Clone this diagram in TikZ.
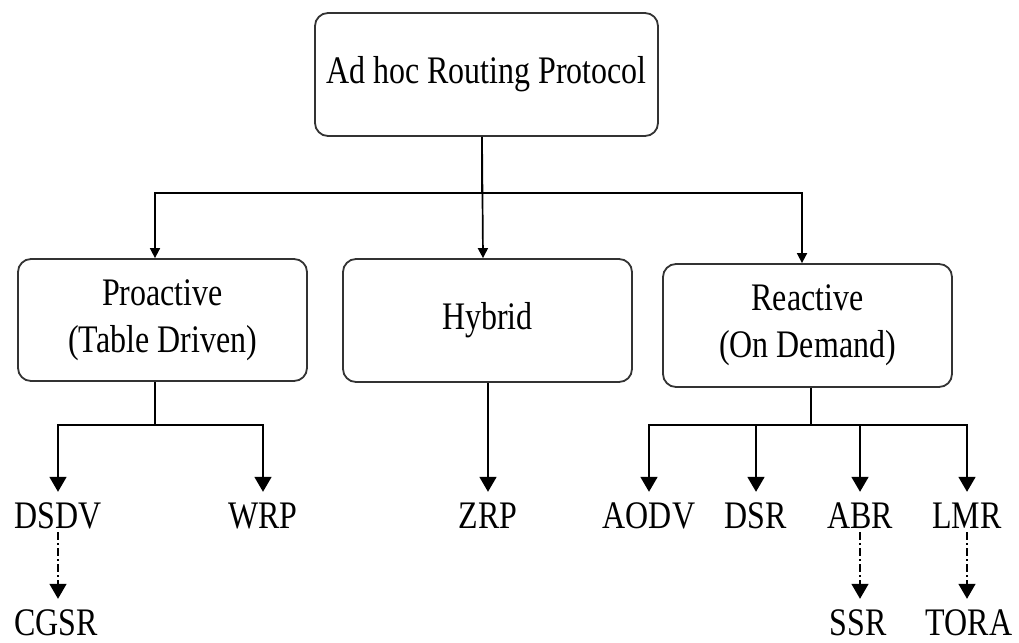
\documentclass[tikz,border=0pt]{standalone}
\usepackage{fontspec}
\setmainfont{Liberation Serif}[FakeStretch=0.82]
\usetikzlibrary{arrows.meta,calc}
\tikzset{
  box/.style={draw=black!80, line width=1.8pt, rounded corners=13pt, inner sep=0pt, align=center,
    font=\fontsize{39}{47}\selectfont},
  leaf/.style={inner sep=0pt, anchor=base, text height=36pt, text depth=4pt,
    font=\fontsize{39}{47}\selectfont},
  lowleaf/.style={leaf, text depth=0pt},
  arrS/.style={line width=1.7pt, -{Triangle[width=10pt,length=10pt]}},
  arrL/.style={line width=1.8pt, -{Triangle[width=17pt,length=15pt]}},
  link/.style={line width=1.8pt},
  dasharr/.style={line width=1.5pt, dash pattern=on 8pt off 3pt on 2pt off 3pt,
    -{Triangle[width=17pt,length=15pt]}},
}
\begin{document}
\begin{tikzpicture}[x=1pt,y=-1pt]
\useasboundingbox (0,0) rectangle (1019,642);
% boxes
\node[box, minimum width=343pt, minimum height=123pt] (root) at (486.5,74.5) {Ad hoc Routing Protocol};
\node[box, minimum width=289pt, minimum height=122pt] (pro) at (162.5,320) {Proactive\\(Table Driven)};
\node[box, minimum width=289pt, minimum height=123pt] (hyb) at (487.5,320.5) {Hybrid};
\node[box, minimum width=289pt, minimum height=123pt] (rea) at (807.5,325.5) {Reactive\\(On Demand)};
% leaves
\node[leaf] (dsdv) at (58,528) {DSDV};
\node[leaf] (wrp) at (263,528) {WRP};
\node[leaf] (zrp) at (488,528) {ZRP};
\node[leaf] (aodv) at (649,528) {AODV};
\node[leaf] (dsr) at (756,528) {DSR};
\node[leaf] (abr) at (860,528) {ABR};
\node[leaf] (lmr) at (967,528) {LMR};
\node[lowleaf] (cgsr) at (56,635) {CGSR};
\node[lowleaf] (ssr) at (858,635) {SSR};
\node[lowleaf] (tora) at (969,635) {TORA};
% top level connectors
\draw[link] ([xshift=-4.5pt]root.south) -- ++(0,56) coordinate (rj);
\draw[arrS] ([xshift=-4.5pt]root.south) -- ([xshift=-4.5pt]hyb.north);
\draw[arrS] (rj) -| ([xshift=-7.5pt]pro.north);
\draw[arrS] (rj) -| ([xshift=-5.5pt]rea.north);
% proactive
\draw[link] ([xshift=-7.5pt]pro.south) -- ++(0,43) coordinate (pj);
\draw[arrL] (pj) -| (dsdv.north);
\draw[arrL] (pj) -| (wrp.north);
% hybrid
\draw[arrL] ([xshift=0.5pt]hyb.south) -- (zrp.north);
% reactive
\draw[link] ([xshift=3.5pt]rea.south) -- ++(0,37) coordinate (qj);
\draw[arrL] (qj) -| (aodv.north);
\draw[arrL] (qj) -| (dsr.north);
\draw[arrL] (qj) -| (abr.north);
\draw[arrL] (qj) -| (lmr.north);
% dashed
\draw[dasharr] (dsdv.south) -- (dsdv.south |- cgsr.north);
\draw[dasharr] (abr.south) -- (abr.south |- ssr.north);
\draw[dasharr] (lmr.south) -- (lmr.south |- tora.north);
\end{tikzpicture}
\end{document}
